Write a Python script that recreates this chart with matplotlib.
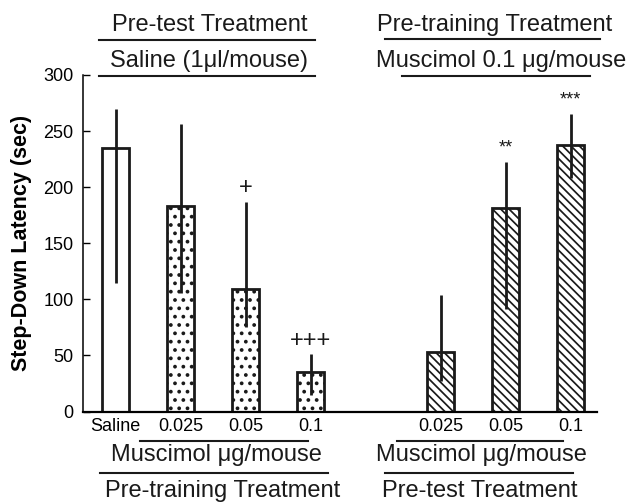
import matplotlib
matplotlib.use("Agg")
import matplotlib.pyplot as plt
from matplotlib.lines import Line2D
import numpy as np

plt.rcParams['font.family'] = ['Liberation Sans', 'DejaVu Sans']

# ---- data ----
tick_labels = ["Saline", "0.025", "0.05", "0.1", "0.025", "0.05", "0.1"]
positions = [0, 1, 2, 3, 5, 6, 7]
means = [235, 183, 109, 35, 53, 181, 238]
err_upper = [270, 256, 187, 51, 104, 222, 265]
err_lower = [115, 106, 75, 15, 27, 91, 208]
hatches = ["", "..", "..", "..", r"\\\\", r"\\\\", r"\\\\"]
marks = ["", "", "+", "+++", "", "**", "***"]
y_ticks = [0, 50, 100, 150, 200, 250, 300]

W, H = 630, 503
fig = plt.figure(figsize=(W / 100, H / 100), dpi=100)
ax = fig.add_axes([83.3 / W, 1 - 411.5 / H, (597.3 - 83.3) / W, (411.5 - 75) / H])

lo = np.array(means) - np.array(err_lower)
hi = np.array(err_upper) - np.array(means)
for p, m, h in zip(positions, means, hatches):
    hlw = 1.5 if h.startswith(".") else 1.25
    with plt.rc_context({'hatch.linewidth': hlw}):
        bars = ax.bar([p], [m], width=0.41, color="white", edgecolor="#1a1a1a",
                      linewidth=2.0, hatch=h if h else None, zorder=2)
    for b in bars:
        if hasattr(b, "set_hatch_linewidth"):
            b.set_hatch_linewidth(hlw)
ax.errorbar(positions, means, yerr=[lo, hi], fmt="none", ecolor="#1a1a1a",
            elinewidth=2.0, capsize=0, zorder=3)

for p, top, mk in zip(positions, err_upper, marks):
    if not mk:
        continue
    if mk.startswith("+"):
        ax.annotate(mk, (p, top), xytext=(0, 2), textcoords="offset points",
                    ha="center", va="bottom", fontsize=17, color="#1a1a1a")
    else:
        ax.annotate(mk, (p, top), xytext=(0, 4), textcoords="offset points",
                    ha="center", va="bottom", fontsize=13, color="#1a1a1a")

ax.set_xlim(-0.5, 7.41)
ax.set_ylim(0, 300)
ax.set_yticks(y_ticks)
ax.set_xticks(positions)
ax.set_xticklabels(tick_labels)
ax.tick_params(axis="y", direction="in", length=5, width=1.0, labelsize=13, pad=7)
ax.tick_params(axis="x", length=0, labelsize=13, pad=5)
for s in ["top", "right"]:
    ax.spines[s].set_visible(False)
ax.spines["left"].set_linewidth(1.1)
ax.spines["bottom"].set_linewidth(1.6)
ax.set_ylabel("Step-Down Latency (sec)", fontsize=15.5, fontweight="bold", labelpad=8)


def ftext(x, y, s, size=17):
    fig.text(x / W, 1 - y / H, s, ha="center", va="center", fontsize=size, color="#1a1a1a")


def fline(x0, x1, y):
    fig.add_artist(Line2D([x0 / W, x1 / W], [1 - y / H, 1 - y / H],
                          color="#1a1a1a", linewidth=1.5))


# top headers
ftext(209.5, 25, "Pre-test Treatment")
fline(99, 315, 40)
ftext(209.5, 61, "Saline (1μl/mouse)")
fline(99, 315, 76)
ftext(495, 25, "Pre-training Treatment")
fline(385, 600, 39)
ftext(501, 61, "Muscimol 0.1 μg/mouse")
fline(402, 590, 76)

# bottom labels
fline(140, 308, 440.7)
fline(396.7, 563, 440.7)
ftext(216, 455, "Muscimol μg/mouse")
ftext(481, 455, "Muscimol μg/mouse")
fline(100, 328, 472.7)
fline(385, 573, 472.7)
ftext(223, 491, "Pre-training Treatment")
ftext(479.5, 491, "Pre-test Treatment")

fig.savefig("out.png", dpi=100)
